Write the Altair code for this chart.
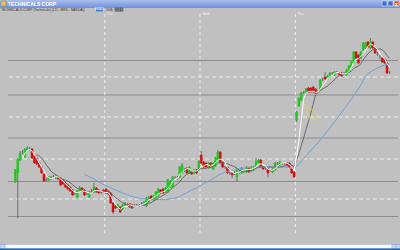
import json
import altair as alt
import pandas as pd

# ---- candle data (price units) ----
opens = [46.8, 47.7, 49.0, 49.8, 49.3, 50.0, 50.1, 50.1, 49.4, 49.2, 48.7, 48.3, 47.6, 47.0, 47.0, 47.1, 47.35, 47.2, 47.3, 47.2,
         47.0, 46.7, 46.5, 46.3, 46.0, 45.65, 45.3, 45.9, 46.2, 46.0, 45.6, 45.3, 45.9, 45.8, 46.2, 46.0, 45.8, 46.0,
         46.1, 45.9, 45.7, 44.7, 44.4, 44.3, 44.3, 44.1, 44.4, 44.55, 44.6, 44.5, 44.5, 44.5, 44.45, 44.65, 44.5, 44.4, 44.8, 45.4,
         45.0, 45.2, 45.4, 46.0, 46.1, 45.8, 45.8, 46.3, 46.3, 47.25, 47.2, 47.3, 47.7, 48.0, 48.2, 47.7, 47.9, 47.7, 48.0, 48.0,
         49.5, 48.8, 48.7, 48.2, 48.7, 48.1, 48.4, 49.0, 49.8, 48.8, 48.3, 48.3, 47.7, 47.7, 47.7, 47.3, 47.8, 47.7, 47.9, 47.8,
         48.2, 47.9, 48.0, 48.3, 48.7, 49.0, 48.3, 48.2, 48.1, 48.0, 47.8, 48.0, 48.7, 48.5, 48.7, 48.7, 48.7, 48.7, 48.3, 47.8,
         53.0, 54.4, 55.0, 55.75, 55.7, 56.2, 56.2, 56.3, 56.1, 55.9, 56.0, 57.1, 57.3, 57.2, 57.3, 57.7, 57.5, 57.8, 57.7, 57.7,
         57.7, 57.5, 57.8, 58.3, 58.7, 59.8, 59.5, 59.2, 60.0, 60.2, 60.8, 60.2, 60.8, 60.2, 59.6, 59.3, 59.2, 59.1, 58.7, 57.8]
closes = [48.0, 49.1, 49.7, 49.8, 50.1, 50.2, 50.1, 49.2, 48.7, 48.6, 48.3, 47.7, 46.9, 47.0, 47.3, 47.3, 47.35, 47.4, 47.1, 46.5,
          46.6, 46.3, 46.1, 45.9, 45.5, 45.65, 45.9, 46.2, 45.9, 45.5, 45.6, 45.8, 45.9, 46.3, 45.8, 45.7, 45.8, 45.8,
          45.7, 45.6, 44.7, 43.8, 44.2, 44.5, 43.8, 44.5, 44.7, 44.55, 44.3, 44.2, 44.5, 44.5, 44.45, 44.65, 44.8, 45.2, 45.3, 45.1,
          45.4, 45.8, 46.1, 45.7, 45.7, 46.2, 47.0, 46.8, 47.3, 47.25, 47.2, 48.3, 48.5, 48.0, 47.7, 48.3, 47.6, 48.0, 47.7, 48.9,
          48.7, 48.3, 48.3, 48.7, 48.3, 48.7, 49.2, 49.8, 48.7, 48.3, 48.3, 47.7, 47.7, 47.5, 47.7, 48.1, 47.8, 48.2, 47.9, 48.3,
          47.8, 48.3, 48.3, 48.8, 49.0, 48.3, 48.1, 48.2, 47.7, 48.0, 48.1, 48.7, 48.7, 48.8, 48.7, 48.7, 48.5, 48.3, 47.7, 47.3,
          53.8, 55.2, 55.7, 55.75, 56.1, 55.8, 55.8, 55.8, 55.7, 55.9, 57.0, 57.1, 57.1, 57.4, 57.7, 57.7, 57.8, 57.8, 57.5, 57.4,
          57.7, 58.0, 58.4, 58.8, 59.8, 59.2, 58.7, 59.8, 60.7, 60.7, 60.3, 60.8, 60.2, 59.7, 59.6, 59.3, 58.8, 58.7, 57.7, 57.8]
highs = [48.1, 49.2, 49.9, 50.0, 50.2, 50.4, 50.3, 50.2, 49.5, 49.3, 48.8, 48.4, 47.7, 47.2, 47.4, 47.4, 47.5, 47.5, 47.4, 47.3,
         47.1, 46.8, 46.6, 46.4, 46.1, 45.8, 46.0, 46.4, 46.3, 46.1, 45.8, 45.9, 46.1, 46.7, 46.3, 46.1, 46.0, 46.1,
         46.2, 46.0, 45.8, 44.8, 44.5, 44.6, 44.4, 44.6, 44.8, 44.7, 44.7, 44.6, 44.6, 44.6, 44.6, 44.8, 44.9, 45.3, 45.4, 45.5,
         45.5, 45.9, 46.2, 46.1, 46.2, 46.3, 47.1, 47.0, 47.4, 47.4, 47.4, 48.4, 48.7, 48.2, 48.3, 48.4, 48.0, 48.1, 48.1, 49.0,
         49.9, 48.9, 48.8, 48.8, 48.8, 48.8, 49.3, 50.0, 49.9, 48.9, 48.4, 48.4, 47.8, 47.8, 47.9, 48.2, 48.0, 48.3, 48.1, 48.4,
         48.3, 48.4, 48.4, 49.2, 49.1, 49.1, 48.4, 48.3, 48.2, 48.1, 48.2, 48.8, 48.8, 48.9, 48.8, 48.8, 48.8, 48.8, 48.4, 47.9,
         53.9, 55.3, 55.8, 55.9, 56.2, 56.3, 56.3, 56.4, 56.2, 56.0, 57.1, 57.2, 57.8, 57.5, 57.8, 57.8, 57.9, 57.9, 57.8, 57.8,
         57.8, 58.1, 58.5, 58.9, 59.9, 59.9, 59.6, 59.9, 60.8, 60.8, 60.9, 61.2, 60.9, 60.3, 59.8, 59.5, 59.3, 59.2, 58.8, 57.9]
lows = [46.7, 43.2, 48.9, 49.6, 49.2, 49.9, 49.9, 49.1, 48.6, 48.5, 48.2, 47.6, 46.8, 46.8, 46.9, 47.0, 47.2, 47.1, 47.0, 46.4,
        46.5, 46.2, 46.0, 45.8, 45.4, 45.5, 45.2, 45.8, 45.8, 45.4, 45.5, 45.2, 45.7, 45.7, 45.7, 45.6, 45.6, 45.7,
        45.6, 45.5, 44.6, 43.6, 44.1, 44.2, 43.7, 44.0, 44.3, 44.4, 44.2, 44.1, 44.4, 44.35, 44.3, 44.5, 44.4, 44.3, 44.7, 45.0,
        44.9, 45.1, 45.3, 45.6, 45.6, 45.7, 45.7, 46.2, 46.2, 47.1, 47.0, 47.2, 47.6, 47.8, 47.6, 47.6, 47.5, 47.6, 47.6, 47.9,
        48.6, 48.2, 48.2, 48.1, 48.2, 48.0, 48.3, 48.9, 48.6, 48.2, 48.1, 47.6, 47.5, 47.2, 47.5, 46.8, 47.6, 47.6, 47.7, 47.7,
        47.7, 47.8, 47.9, 48.2, 48.6, 48.2, 48.0, 48.0, 47.3, 47.8, 47.7, 47.9, 48.5, 48.4, 48.5, 48.5, 48.4, 48.2, 47.6, 47.2,
        52.8, 54.3, 54.9, 55.6, 55.6, 55.7, 55.7, 55.7, 55.6, 55.7, 55.9, 56.9, 57.0, 57.1, 57.2, 57.5, 57.4, 57.6, 57.4, 57.3,
        57.5, 57.4, 57.7, 58.2, 58.6, 59.1, 58.6, 59.1, 59.9, 60.1, 60.2, 60.1, 60.1, 59.6, 59.4, 59.1, 58.7, 58.6, 57.6, 57.6]
bar_t = list(range(2, 2 + len(closes)))

# ---- reference lines, labels ----
grid_solid = [58.95, 55.5, 51.2, 46.85, 43.35]
grid_dashed = [57.3, 53.3, 49.1, 45.1]
day_breaks = [39.5, 79.5, 119.5]
day_names = ["Tue", "Wed", "Thu"]
price_ticks = [42, 43, 44, 45, 46, 47, 48, 49, 50, 51, 52, 53, 54, 55, 56, 57, 58, 59, 60, 61, 62, 63]
time_ticks = [8, 14, 20, 26, 32, 39.5, 46, 52, 58, 64, 70, 79.5, 86, 92, 98, 104, 110, 119.5,
              126, 132, 138, 144, 150, 156]
time_labels = ["10:30", "11:00", "11:30", "12:00", "12:30", "13/05/08", "10:30", "11:00", "11:30", "12:00",
               "12:30", "14/05/08", "10:30", "11:00", "11:30", "12:00", "12:30", "15/05/08",
               "10:30", "11:00", "11:30", "12:00", "12:30", "13:00"]
fib_t = [123.3, 130.0, 126.0, 123.3]
fib_p = [54.6, 53.3, 53.0, 54.6]
ma_fast, ma_mid, ma_slow = 4, 9, 30
window_title = "TECHNICALS CORP"
header_text = "TECHNICALS CORP (Technicals) (L2) - MRS - NASDAQ"

df = pd.DataFrame({"t": bar_t, "o": opens, "h": highs, "l": lows, "c": closes})

xs = alt.Scale(domain=[1, 160.5], nice=False, zero=False)
ys = alt.Scale(domain=[41.4, 63.6], nice=False, zero=False)
FONT = "Liberation Sans"

xaxis = alt.Axis(values=time_ticks, title="", grid=False, labelFontSize=3.6, labelColor="#3a3a3a",
                 labelFont=FONT, tickSize=2, tickColor="#e6e6e6", domainColor="#dcdcdc",
                 labelPadding=1, labelOverlap=False, labelFlush=False,
                 labelExpr=json.dumps(time_labels) + "[indexof(" + json.dumps(time_ticks) + ", datum.value)]")
yaxis = alt.Axis(values=price_ticks, title="", grid=False, format=".2f", labelFontSize=3.4,
                 labelColor="#3a3a3a", labelFont=FONT, tickSize=1, tickColor="#e6e6e6",
                 domainColor="#ececec", labelPadding=0.5, labelOverlap=False, labelFlush=False)

one = pd.DataFrame({"k": [0]})

g_solid = alt.Chart(pd.DataFrame({"p": grid_solid})).mark_rule(color="#8c8c8c", strokeWidth=1).encode(
    y=alt.Y("p:Q", scale=ys, axis=None))
g_dash = alt.Chart(pd.DataFrame({"p": grid_dashed})).mark_rule(color="#ececec", strokeWidth=1, strokeDash=[4, 3]).encode(
    y=alt.Y("p:Q", scale=ys, axis=None))
seps_df = pd.DataFrame({"t": day_breaks, "name": day_names})
seps = alt.Chart(seps_df).mark_rule(color="#eeeeee", strokeWidth=1, strokeDash=[3, 3]).encode(
    x=alt.X("t:Q", scale=xs, axis=None))
sep_lbl = alt.Chart(seps_df).mark_text(align="left", baseline="middle", fontSize=3.6, color="#f4f4f4",
                                       font=FONT, dx=2).encode(
    x=alt.X("t:Q", scale=xs, axis=None), y=alt.value(-0.2), text="name:N")

wicks = alt.Chart(df).mark_rule(color="#6e6e6e", strokeWidth=1).encode(
    x=alt.X("t:Q", scale=xs, axis=xaxis), y=alt.Y("l:Q", scale=ys, axis=yaxis), y2="h:Q")

cscale = alt.Scale(domain=["up", "down", "flat"], range=["#1fc81f", "#d21010", "#7a7a7a"])
bodies = alt.Chart(df).transform_calculate(
    dir="datum.c > datum.o ? 'up' : (datum.c < datum.o ? 'down' : 'flat')"
).mark_bar(size=2, strokeWidth=0.5).encode(
    x=alt.X("t:Q", scale=xs, axis=None), y=alt.Y("o:Q", scale=ys, axis=None), y2="c:Q",
    color=alt.Color("dir:N", scale=cscale), stroke=alt.Stroke("dir:N", scale=cscale))


def ma_layer(n, color):
    return alt.Chart(df).transform_window(
        ma="mean(c)", cnt="count()", frame=[-(n - 1), 0], sort=[alt.SortField("t")]
    ).transform_filter(alt.datum.cnt >= n).mark_line(color=color, strokeWidth=1).encode(
        x=alt.X("t:Q", scale=xs, axis=None), y=alt.Y("ma:Q", scale=ys, axis=None))


fib = alt.Chart(pd.DataFrame({"t": fib_t, "p": fib_p, "k": list(range(len(fib_t)))})).mark_line(
    color="#e6d84a", strokeWidth=0.8).encode(
    x=alt.X("t:Q", scale=xs, axis=None), y=alt.Y("p:Q", scale=ys, axis=None), order="k:Q")

# ---- window chrome ----
grad = alt.LinearGradient(gradient="linear", x1=0, x2=0, y1=0, y2=1,
                          stops=[alt.GradientStop(color="#a9bfee", offset=0),
                                 alt.GradientStop(color="#6f8fdc", offset=1)])


def box(x1, x2, y1, y2, fill, **kw):
    return alt.Chart(one).mark_rect(fill=fill, **kw).encode(
        x=alt.value(x1), x2=alt.value(x2), y=alt.value(y1), y2=alt.value(y2))


def label(x, y, txt, size, color, align="left", **kw):
    return alt.Chart(one).mark_text(align=align, baseline="middle", fontSize=size, color=color,
                                    font=FONT, **kw).encode(
        x=alt.value(x), y=alt.value(y), text=alt.value(txt))


chrome = [
    box(-8, 392, -14, -6, grad),
    box(-7, -2, -13, -8, "#f2c23c", stroke="#b07a10", strokeWidth=0.5),
    label(0, -10, window_title, 5, "#ffffff", fontWeight="bold"),
    box(374, 379, -13, -8, "#3f6fd6", stroke="#ffffff", strokeWidth=0.5),
    box(380, 385, -13, -8, "#3f6fd6", stroke="#ffffff", strokeWidth=0.5),
    box(386, 391, -13, -8, "#d9532c", stroke="#ffffff", strokeWidth=0.5),
    label(388.5, -10.3, "x", 5, "#ffffff", align="center", fontWeight="bold"),
    label(-7, -4.4, header_text, 3.3, "#303030"),
    box(88, 95, -6, -2.6, "#3f7fd8"),
    label(91.5, -4.3, "EMA34", 2.6, "#ffffff", align="center"),
    label(98, -4.3, "SMA", 3, "#505050"),
    box(107, 115, -6, -2.6, "#b0b0b0", stroke="#404040", strokeWidth=0.5),
    label(111, -4.3, "EMA1", 2.8, "#202020", align="center"),
    box(-3, 384, 230.5, 234.5, "#ffffff", stroke="#9bb3de", strokeWidth=0.5),
    box(-8, -3, 230.5, 234.5, "#c9d9f2", stroke="#7f9fd8", strokeWidth=0.5),
    box(384, 388, 230.5, 234.5, "#c9d9f2", stroke="#7f9fd8", strokeWidth=0.5),
    box(388, 392, 230.5, 234.5, "#c9d9f2", stroke="#7f9fd8", strokeWidth=0.5),
    box(-8, 392, 234.5, 236, "#2f62c8"),
]

chart = alt.layer(
    g_solid, g_dash, seps, wicks, bodies,
    ma_layer(ma_slow, "#6f9fdc"), ma_layer(ma_mid, "#6a6a6a"), ma_layer(ma_fast, "#ffffff"),
    fib, sep_lbl, *chrome
).properties(
    width=390, height=222,
    padding={"left": 8, "top": 14, "right": 2, "bottom": 14},
    autosize=alt.AutoSizeParams(type="none"),
).configure(background="#c0c0c0").configure_view(fill="#c0c0c0", strokeWidth=0).configure_legend(disable=True)

chart.save("out.html", embed_options={"renderer": "svg", "actions": False})
